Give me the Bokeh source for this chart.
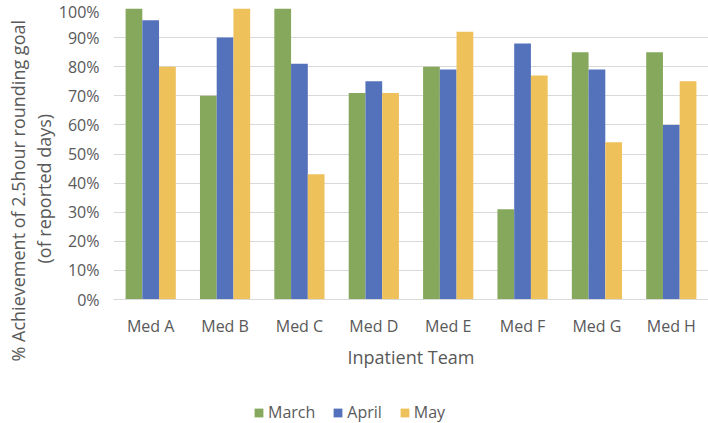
from bokeh.plotting import figure
from bokeh.layouts import column
from bokeh.models import (FactorRange, Range1d, FixedTicker, PrintfTickFormatter,
                          Legend, LegendItem, Title, ColumnDataSource)
from bokeh.transform import dodge
from bokeh.embed import file_html
from bokeh.resources import INLINE

teams = ["Med A", "Med B", "Med C", "Med D", "Med E", "Med F", "Med G", "Med H"]
march = [100, 70, 100, 71, 80, 31, 85, 85]
april = [96, 90, 81, 75, 79, 88, 79, 60]
may = [80, 100, 43, 71, 92, 77, 54, 75]
months = ["March", "April", "May"]
colors = ["#86A85C", "#5472BB", "#EEC15A"]
y_ticks = list(range(0, 101, 10))
y_title_lines = ["% Achievement of 2.5hour rounding goal", "(of reported days)"]
x_title = "Inpatient Team"

FONT = "Open Sans"
TXT = "#595959"
GRID = "#D9D9D9"
FRAME_LEFT = 113

src = ColumnDataSource(dict(team=teams, March=march, April=april, May=may))

p = figure(width=708, height=393, x_range=FactorRange(*teams, range_padding=0),
           y_range=Range1d(0, 100), output_backend="svg", toolbar_location=None,
           min_border_left=FRAME_LEFT, min_border_right=0, min_border_top=8,
           min_border_bottom=94)

offsets = [-0.225, 0.0, 0.225]
for m, c, off in zip(months, colors, offsets):
    p.vbar(x=dodge("team", off, range=p.x_range), top=m, width=0.225,
           source=src, fill_color=c, line_color=None)

p.outline_line_color = None
p.xgrid.grid_line_color = None
p.ygrid.grid_line_color = GRID
p.ygrid.grid_line_width = 1
p.yaxis.ticker = FixedTicker(ticks=y_ticks)
p.yaxis.formatter = PrintfTickFormatter(format="%d%%")
p.yaxis.axis_line_color = None
p.yaxis.major_tick_line_color = None
p.yaxis.minor_tick_line_color = None
p.yaxis.major_tick_out = 0
p.yaxis.major_label_standoff = 14
p.xaxis.axis_line_color = GRID
p.xaxis.major_tick_line_color = None
p.xaxis.minor_tick_line_color = None
p.xaxis.major_tick_out = 0
p.xaxis.major_label_standoff = 15
p.xaxis.axis_label = x_title
p.xaxis.axis_label_standoff = 5
p.xaxis.axis_label_text_font_style = "normal"
for ax in (p.xaxis[0], p.yaxis[0]):
    ax.major_label_text_font = FONT
    ax.major_label_text_font_size = "16px"
    ax.major_label_text_color = TXT
    ax.axis_label_text_font = FONT
    ax.axis_label_text_font_size = "18px"
    ax.axis_label_text_color = TXT

# two-line y-axis title (inner line first), shifted down like the reference
for txt, off in zip(reversed(y_title_lines), [36, -62]):
    p.add_layout(Title(text=txt, align="left", offset=off, standoff=0,
                       text_font=FONT, text_font_size="18px", text_color=TXT,
                       text_font_style="normal"), "left")

# legend strip below the chart
lg = figure(width=708, height=30, x_range=Range1d(0, 1), y_range=Range1d(0, 1),
            output_backend="svg", toolbar_location=None,
            x_axis_location=None, y_axis_location=None,
            min_border_left=0, min_border_right=0, min_border_top=0,
            min_border_bottom=0)
lg.grid.visible = False
lg.outline_line_color = None
items = []
for m, c in zip(months, colors):
    r = lg.vbar(x=[-10], top=[-10], width=0.1, fill_color=c, line_color=None)
    items.append(LegendItem(label=m, renderers=[r]))
legend = Legend(items=items, orientation="horizontal", location=(255 - FRAME_LEFT - 2, 0),
                border_line_color=None, background_fill_alpha=0,
                label_text_font=FONT, label_text_font_size="16px",
                label_text_color=TXT, glyph_width=11, glyph_height=11,
                spacing=17, label_standoff=4, padding=0, margin=0)
lg.add_layout(legend, "center")

layout = column(p, lg, spacing=0)
open("out.html", "w").write(file_html(layout, INLINE))
